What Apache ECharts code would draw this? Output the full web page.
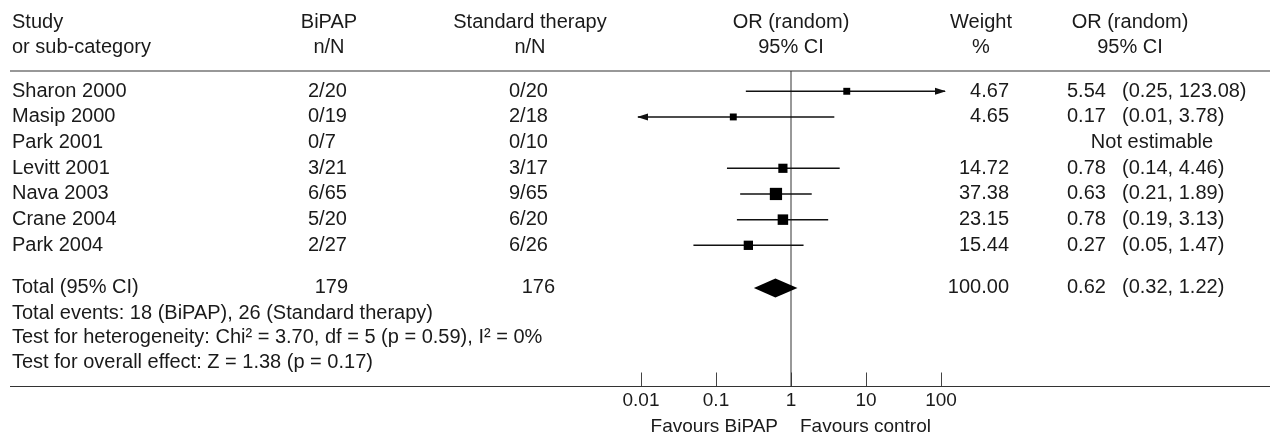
<!DOCTYPE html>
<html>
<head>
<meta charset="utf-8">
<script src="https://cdn.jsdelivr.net/npm/echarts@6/dist/echarts.min.js"></script>
<style>
html,body{margin:0;padding:0;background:#fff;}
#chart{width:1276px;height:438px;}
</style>
</head>
<body>
<div id="chart"></div>
<script>
// ---------------- data ----------------
const studies = ['Sharon 2000', 'Masip 2000', 'Park 2001', 'Levitt 2001', 'Nava 2003', 'Crane 2004', 'Park 2004'];
const bipapNN = ['2/20', '0/19', '0/7', '3/21', '6/65', '5/20', '2/27'];
const standardNN = ['0/20', '2/18', '0/10', '3/17', '9/65', '6/20', '6/26'];
const oddsRatio = [5.54, 0.17, null, 0.78, 0.63, 0.78, 0.27];
const ciLower = [0.25, 0.01, null, 0.14, 0.21, 0.19, 0.05];
const ciUpper = [123.08, 3.78, null, 4.46, 1.89, 3.13, 1.47];
const weightPct = [4.67, 4.65, null, 14.72, 37.38, 23.15, 15.44];

const totalLabel = 'Total (95% CI)';
const totalBipap = 179;
const totalStandard = 176;
const totalOR = 0.62;
const totalLower = 0.32;
const totalUpper = 1.22;
const totalWeight = 100.00;

const footnotes = [
  'Total events: 18 (BiPAP), 26 (Standard therapy)',
  'Test for heterogeneity: Chi\u00B2 = 3.70, df = 5 (p = 0.59), I\u00B2 = 0%',
  'Test for overall effect: Z = 1.38 (p = 0.17)'
];
const xTicks = [0.01, 0.1, 1, 10, 100];
const xTickLabels = ['0.01', '0.1', '1', '10', '100'];
const favoursLeft = 'Favours BiPAP';
const favoursRight = 'Favours control';
const notEstimable = 'Not estimable';

// ---------------- layout / style ----------------
const FONT = '"Liberation Sans", Arial, sans-serif';
const FS = 20;
const INK = '#1a1a1a';
const RULE = '#333';

const X_MIN = 0.01, X_MAX = 100;
const Y_MIN = -0.79, Y_MAX = 11.5;          // row units (study rows 0..6)
const TOTAL_ROW = 7.66;
const HEADER_ROWS = [-2.68, -1.69];
const FOOT_ROWS = [8.64, 9.61, 10.57];
const FAVOURS_ROW = 13.07;

const COL = {
  study: 12,
  bipapL: 308, bipapR: 348, bipapC: 329,
  stdL: 509, stdR: 555, stdC: 530,
  weightR: 1009, weightC: 981,
  orL: 1067, ciL: 1122, orC: 1130, naC: 1152,
  ruleL: 10, ruleR: 1270
};

function txt(x, y, text, align, size) {
  return {
    type: 'text', x: x, y: y, z2: 5,
    style: {
      text: text, align: align, verticalAlign: 'middle',
      fontSize: size || FS, fontFamily: FONT, fill: INK
    }
  };
}
function fmt2(v) { return v.toFixed(2); }

const rowData = studies.map((s, i) => ({ value: [oddsRatio[i] == null ? 1 : oddsRatio[i], i] }));
rowData.push({ value: [totalOR, TOTAL_ROW] });

function renderRow(params, api) {
  const idx = params.dataIndex;
  const isTotal = idx === studies.length;
  const y = api.coord([1, api.value(1)])[1];
  const children = [];

  if (!isTotal) {
    children.push(txt(COL.study, y, studies[idx], 'left'));
    children.push(txt(COL.bipapL, y, bipapNN[idx], 'left'));
    children.push(txt(COL.stdL, y, standardNN[idx], 'left'));
    if (oddsRatio[idx] == null) {
      children.push(txt(COL.naC, y, notEstimable, 'center'));
    } else {
      const or = oddsRatio[idx], lo = ciLower[idx], hi = ciUpper[idx];
      children.push(txt(COL.weightR, y, fmt2(weightPct[idx]), 'right'));
      children.push(txt(COL.orL, y, fmt2(or), 'left'));
      children.push(txt(COL.ciL, y, '(' + fmt2(lo) + ', ' + fmt2(hi) + ')', 'left'));

      const arrowL = lo <= X_MIN, arrowR = hi >= X_MAX;
      let xl = api.coord([Math.max(lo, X_MIN), 0])[0];
      let xr = api.coord([Math.min(hi, X_MAX), 0])[0];
      if (arrowL) xl -= 3;
      if (arrowR) xr += 4;
      children.push({
        type: 'line', z2: 2,
        shape: { x1: xl, y1: y, x2: xr, y2: y },
        style: { stroke: '#111', lineWidth: 1.5 }
      });
      if (arrowL) {
        children.push({ type: 'polygon', z2: 3,
          shape: { points: [[xl - 1, y], [xl + 10, y - 3.5], [xl + 10, y + 3.5]] },
          style: { fill: '#111' } });
      }
      if (arrowR) {
        children.push({ type: 'polygon', z2: 3,
          shape: { points: [[xr + 1, y], [xr - 10, y - 3.5], [xr - 10, y + 3.5]] },
          style: { fill: '#111' } });
      }
      const cx = api.coord([or, 0])[0];
      const s = 4 + 1.35 * Math.sqrt(weightPct[idx]);
      children.push({
        type: 'rect', z2: 4,
        shape: { x: cx - s / 2, y: y - s / 2, width: s, height: s },
        style: { fill: '#000' }
      });
    }
  } else {
    children.push(txt(COL.study, y, totalLabel, 'left'));
    children.push(txt(COL.bipapR, y, String(totalBipap), 'right'));
    children.push(txt(COL.stdR, y, String(totalStandard), 'right'));
    children.push(txt(COL.weightR, y, fmt2(totalWeight), 'right'));
    children.push(txt(COL.orL, y, fmt2(totalOR), 'left'));
    children.push(txt(COL.ciL, y, '(' + fmt2(totalLower) + ', ' + fmt2(totalUpper) + ')', 'left'));
    const xl = api.coord([totalLower, 0])[0];
    const xr = api.coord([totalUpper, 0])[0];
    const xc = api.coord([totalOR, 0])[0];
    const h = 9.5;
    children.push({
      type: 'polygon', z2: 4,
      shape: { points: [[xl, y], [xc, y - h], [xr, y], [xc, y + h]] },
      style: { fill: '#000' }
    });
  }
  return { type: 'group', children: children };
}

function renderFrame(params, api) {
  const children = [];
  const yTop = api.coord([1, Y_MIN])[1];
  const yBot = api.coord([1, Y_MAX])[1];
  const x1 = api.coord([1, 0])[0];
  // rules
  children.push({ type: 'line', shape: { x1: COL.ruleL, y1: yTop, x2: COL.ruleR, y2: yTop },
    style: { stroke: RULE, lineWidth: 1.2 } });
  children.push({ type: 'line', shape: { x1: COL.ruleL, y1: yBot, x2: COL.ruleR, y2: yBot },
    style: { stroke: RULE, lineWidth: 1.2 } });
  // line of no effect
  children.push({ type: 'line', shape: { x1: x1, y1: yTop, x2: x1, y2: yBot },
    style: { stroke: RULE, lineWidth: 1 } });
  // headers
  const h0 = api.coord([1, HEADER_ROWS[0]])[1];
  const h1 = api.coord([1, HEADER_ROWS[1]])[1];
  children.push(txt(COL.study, h0, 'Study', 'left'));
  children.push(txt(COL.study, h1, 'or sub-category', 'left'));
  children.push(txt(COL.bipapC, h0, 'BiPAP', 'center'));
  children.push(txt(COL.bipapC, h1, 'n/N', 'center'));
  children.push(txt(COL.stdC, h0, 'Standard therapy', 'center'));
  children.push(txt(COL.stdC, h1, 'n/N', 'center'));
  children.push(txt(x1, h0, 'OR (random)', 'center'));
  children.push(txt(x1, h1, '95% CI', 'center'));
  children.push(txt(COL.weightC, h0, 'Weight', 'center'));
  children.push(txt(COL.weightC, h1, '%', 'center'));
  children.push(txt(COL.orC, h0, 'OR (random)', 'center'));
  children.push(txt(COL.orC, h1, '95% CI', 'center'));
  // footnotes
  footnotes.forEach((f, k) => {
    children.push(txt(COL.study, api.coord([1, FOOT_ROWS[k]])[1], f, 'left'));
  });
  // favours
  const fy = api.coord([1, FAVOURS_ROW])[1];
  children.push(txt(x1 - 13, fy, favoursLeft, 'right', 19));
  children.push(txt(x1 + 9, fy, favoursRight, 'left', 19));
  return { type: 'group', children: children };
}

const chart = echarts.init(document.getElementById('chart'), null, { renderer: 'canvas' });
chart.setOption({
  animation: false,
  backgroundColor: '#fff',
  grid: { left: 641, right: 1276 - 941, top: 71, bottom: 438 - 386.5, containLabel: false },
  xAxis: {
    type: 'log', logBase: 10, min: X_MIN, max: X_MAX, position: 'bottom',
    axisLine: { show: false, onZero: false },
    axisTick: { show: true, inside: true, length: 14, lineStyle: { color: '#444', width: 1 } },
    axisLabel: {
      fontSize: 19, fontFamily: FONT, color: INK, margin: 5,
      formatter: function (v) {
        const k = xTicks.findIndex(t => Math.abs(Math.log10(t) - Math.log10(v)) < 1e-6);
        return k >= 0 ? xTickLabels[k] : '';
      }
    },
    splitLine: { show: false }
  },
  yAxis: { type: 'value', inverse: true, min: Y_MIN, max: Y_MAX, show: false },
  series: [
    { type: 'custom', name: 'frame', clip: false, silent: true, z: 1,
      data: [{ value: [1, 0] }], renderItem: renderFrame },
    { type: 'custom', name: 'studies', clip: false, silent: true, z: 2,
      data: rowData, renderItem: renderRow }
  ]
});
</script>
</body>
</html>
